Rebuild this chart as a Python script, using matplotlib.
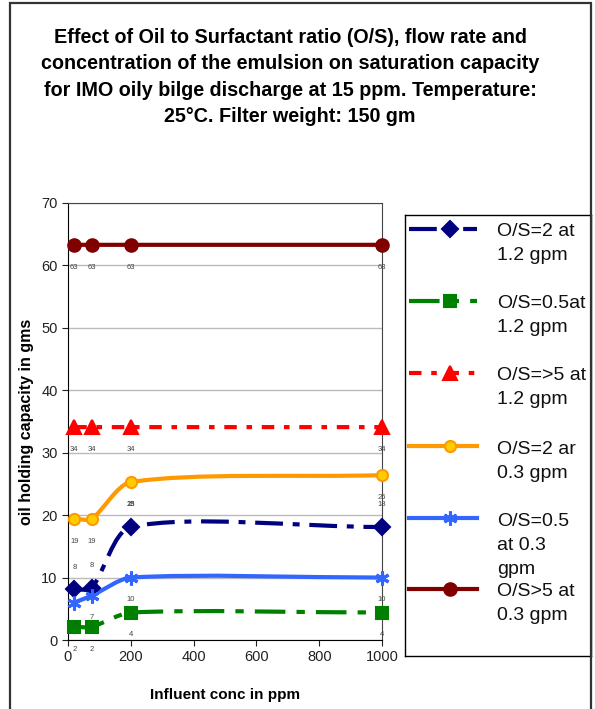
import matplotlib
matplotlib.use('Agg')
import math
import matplotlib.pyplot as plt
from matplotlib.path import Path
from matplotlib.patches import PathPatch, Rectangle
from matplotlib.lines import Line2D

plt.rcParams['font.family'] = ['Liberation Sans', 'DejaVu Sans']
plt.rcParams['lines.scale_dashes'] = False

conc = [20, 75, 200, 1000]
os2_fast = [8.1, 8.3, 18.1, 18.1]
os05_fast = [2.1, 2.1, 4.4, 4.4]
os5_fast = [34.1, 34.1, 34.1, 34.1]
os2_slow = [19.4, 19.4, 25.3, 26.4]
os05_slow = [6.0, 7.1, 10.0, 10.0]
os5_slow = [63.3, 63.3, 63.3, 63.3]

legend_labels = ['O/S=2 at\n1.2 gpm', 'O/S=0.5at\n1.2 gpm', 'O/S=>5 at\n1.2 gpm',
                 'O/S=2 ar\n0.3 gpm', 'O/S=0.5\nat 0.3\ngpm', 'O/S>5 at\n0.3 gpm']

title = ('Effect of Oil to Surfactant ratio (O/S), flow rate and\n'
         'concentration of the emulsion on saturation capacity\n'
         'for IMO oily bilge discharge at 15 ppm. Temperature:\n'
         '25°C. Filter weight: 150 gm')

# style per series: color, marker, marker size, face, dashes, label offset (pt)
series = [
    (os2_fast, '#000080', 'D', 8, '#000080', (0, (20, 7, 5, 7)), 16),
    (os05_fast, '#008000', 's', 8, '#008000', (0, (22, 8, 6, 8)), -16),
    (os5_fast, '#FF0000', '^', 10, '#FF0000', (0, (9, 7, 4, 7)), -16),
    (os2_slow, '#FF9900', 'o', 8, '#FFCC00', '-', -16),
    (os05_slow, '#3366FF', (6, 2, 0), 10, '#3366FF', '-', -16),
    (os5_slow, '#800000', 'o', 9, '#800000', '-', -16),
]

W, H = 595, 709
AX_W, AX_H = 314, 437
SX, SY = AX_W / 1000, AX_H / 70
TENSION = 0.8


def smooth_path(xs, ys):
    # cardinal-like spline, tangents scaled by chord length in screen space
    pts = [(x * SX, y * SY) for x, y in zip(xs, ys)]
    n = len(pts)

    def dist(a, b):
        return math.hypot(b[0] - a[0], b[1] - a[1])

    verts = [pts[0]]
    codes = [Path.MOVETO]
    for i in range(n - 1):
        p0 = pts[max(i - 1, 0)]
        p1 = pts[i]
        p2 = pts[i + 1]
        p3 = pts[min(i + 2, n - 1)]
        l01, l12, l23 = dist(p0, p1), dist(p1, p2), dist(p2, p3)
        if l01 == 0:
            f1 = 1 / 3
            c1 = (p1[0] + (p2[0] - p1[0]) * f1, p1[1] + (p2[1] - p1[1]) * f1)
        else:
            f1 = TENSION * l12 / (l01 + l12) / 3
            c1 = (p1[0] + (p2[0] - p0[0]) * f1, p1[1] + (p2[1] - p0[1]) * f1)
        if l23 == 0:
            f2 = 1 / 3
            c2 = (p2[0] - (p2[0] - p1[0]) * f2, p2[1] - (p2[1] - p1[1]) * f2)
        else:
            f2 = TENSION * l12 / (l12 + l23) / 3
            c2 = (p2[0] - (p3[0] - p1[0]) * f2, p2[1] - (p3[1] - p1[1]) * f2)
        verts += [c1, c2, p2]
        codes += [Path.CURVE4] * 3
    verts = [(vx / SX, vy / SY) for vx, vy in verts]
    return Path(verts, codes)


fig = plt.figure(figsize=(5.95, 7.09), dpi=100)

fig.patches.append(Rectangle((10 / W, -0.05), 581 / W, 1.05 - 3 / H, transform=fig.transFigure,
                             fill=False, edgecolor='#333333', lw=1.6, zorder=0))

fig.text(290 / W, 1 - 77 / H, title, ha='center', va='center', fontsize=14.2,
         fontweight='bold', linespacing=1.5)

ax = fig.add_axes([68 / W, 1 - 640 / H, AX_W / W, AX_H / H])
ax.set_xlim(0, 1000)
ax.set_ylim(0, 70)
ax.set_xticks([0, 200, 400, 600, 800, 1000])
ax.set_yticks(range(0, 71, 10))
ax.yaxis.grid(True, color='#BBBBBB', lw=1)
ax.set_axisbelow(True)
for s in ['top', 'right']:
    ax.spines[s].set_color('#444444')
for s in ['left', 'bottom']:
    ax.spines[s].set_color('black')
ax.tick_params(labelsize=10.5, colors='#222222', length=4, direction='out')

for ys, col, mk, ms, face, ls, off in series:
    ax.add_patch(PathPatch(smooth_path(conc, ys), fill=False, edgecolor=col, lw=3.0,
                           linestyle=ls, capstyle='butt', zorder=3))
    ax.plot(conc, ys, linestyle='none', marker=mk, markersize=ms, color=col,
            markerfacecolor=face, markeredgecolor=col,
            markeredgewidth=1.5 if mk != (6, 2, 0) else 2.2, zorder=4, clip_on=False)
    for x, y in zip(conc, ys):
        ax.annotate('%d' % round(y), (x, y), xytext=(0, off), textcoords='offset points',
                    ha='center', va='center', fontsize=5.5, color='#444444', zorder=5)

ax.set_xlabel('Influent conc in ppm', fontsize=11, fontweight='bold')
ax.set_ylabel('oil holding capacity in gms', fontsize=11.5, fontweight='bold')
ax.xaxis.set_label_coords(0.5, -(688 - 640) / AX_H)
ax.yaxis.set_label_coords((34 - 68) / AX_W, 0.5)

# legend box drawn by hand to keep its spacing
lax = fig.add_axes([405 / W, 1 - 656 / H, 186 / W, 441 / H])
lax.set_xlim(0, 186)
lax.set_ylim(441, 0)
lax.set_xticks([])
lax.set_yticks([])
for s in lax.spines.values():
    s.set_color('black')
    s.set_linewidth(1)
entry_y = [14, 86, 158, 231, 303, 374]
for (ys, col, mk, ms, face, ls, off), lab, ey in zip(series, legend_labels, entry_y):
    lax.add_line(Line2D([4, 72], [ey, ey], color=col, lw=3.0, linestyle=ls,
                        dash_capstyle='butt'))
    lax.plot([45], [ey], marker=mk, markersize=ms, color=col, markerfacecolor=face,
             markeredgecolor=col, markeredgewidth=1.5 if mk != (6, 2, 0) else 2.2)
    for j, line in enumerate(lab.split('\n')):
        lax.text(92, ey + 3 + j * 24, line, ha='left', va='center', fontsize=14,
                 color='#111111', clip_on=True)

fig.savefig('out.png', dpi=100)
